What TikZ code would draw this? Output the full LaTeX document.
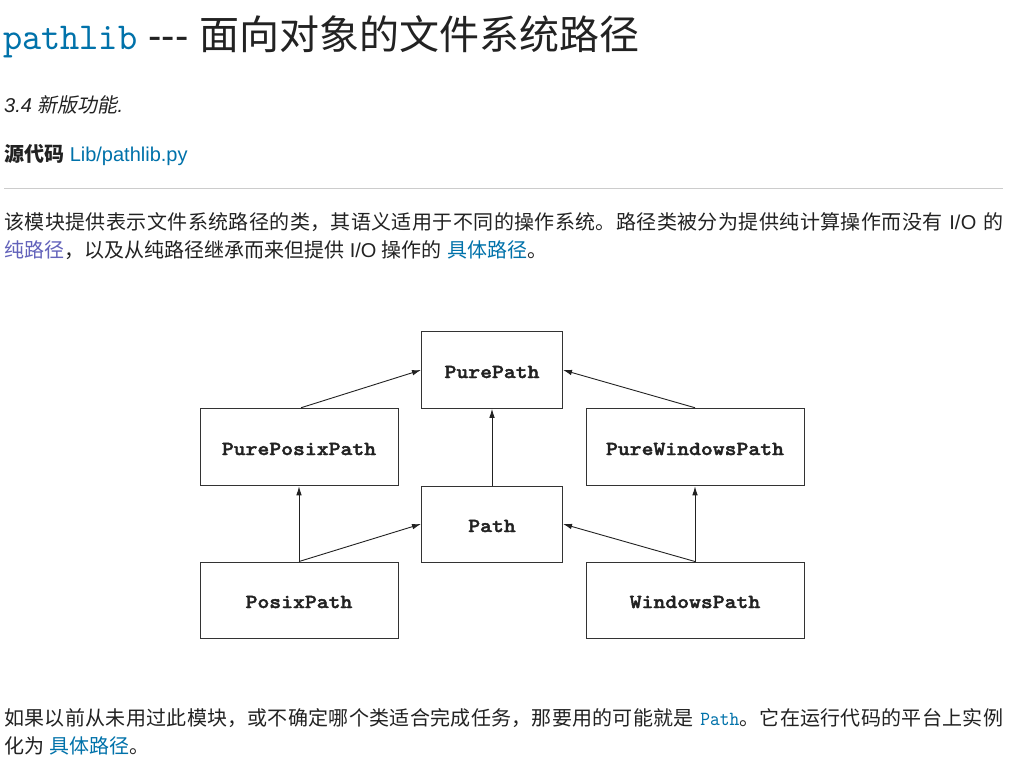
\documentclass[tikz,border=0pt]{standalone}
\usepackage{fontspec}
\setmainfont{Liberation Sans}
\newfontfamily\cjk{Noto Sans CJK SC}
\newfontfamily\cjkit{Noto Sans CJK SC}[FakeSlant=0.2]
\newfontfamily\titlemono{lmmono10-regular.otf}[FakeStretch=0.96]
\newfontfamily\codemono{lmmono10-regular.otf}[FakeStretch=0.93]
\newfontfamily\boxmono{lmmonolt10-bold.otf}[FakeStretch=1.13,FakeBold=2]
\usetikzlibrary{arrows.meta}
\definecolor{link}{HTML}{0072AA}
\definecolor{visited}{HTML}{6363BB}
\definecolor{txt}{HTML}{222222}
\definecolor{boxline}{HTML}{333333}
\definecolor{arrowc}{HTML}{222222}
\definecolor{rulec}{HTML}{CCCCCC}
\XeTeXlinebreaklocale "zh"
\XeTeXlinebreakskip=0pt plus 1pt
\begin{document}
\begin{tikzpicture}[x=1pt,y=-1pt,
  box/.style={draw=boxline, line width=1pt, inner sep=0pt, text=txt,
    text height=16pt, text depth=0pt,
    font=\boxmono\fontsize{20}{24}\selectfont},
  inh/.style={-{Latex[length=9pt,width=5.5pt]}, line width=0.9pt, draw=arrowc},
  txtnode/.style={anchor=base west, inner sep=0pt, text=txt,
    font=\fontsize{20}{28}\selectfont}]
\useasboundingbox[fill=white] (0,0) rectangle (1020,763);

% title and header texts
\node[txtnode, font=\fontsize{40}{44}\selectfont] (title) at (3,49)
  {{\titlemono\color{link}\fontsize{38}{44}\selectfont pathlib} \hbox{-}\hbox{-}\hbox{-} {\cjk 面向对象的文件系统路径}};
\node[txtnode] (ver) at (4,112) {\itshape 3.4 {\cjkit 新版功能}.};
\node[txtnode] (src) at (4,161) {{\cjk\bfseries 源代码} {\color{link}Lib/pathlib.py}};
\draw[rulec, line width=1pt] (4,188.5) -- (1003,188.5);

% paragraph 1
\node[txtnode] (p1a) at (4,229) {\parbox[b]{999pt}{\parfillskip=0pt\tolerance=9999
  {\cjk 该模块提供表示文件系统路径的类，其语义适用于不同的操作系统。路径类被分为提供纯计算操作而没有} I/O {\cjk 的}}};
\node[txtnode] (p1b) at (4,257)
  {{\cjk\color{visited}纯路径}{\cjk ，以及从纯路径继承而来但提供} I/O {\cjk 操作的} {\cjk\color{link}具体路径}{\cjk 。}};

% diagram
\node[box, minimum width=141pt, minimum height=76.5pt] (pp) at (492,370) {PurePath};
\node[box, minimum width=198pt, minimum height=77.5pt] (ppx) at (299,447) {PurePosixPath};
\node[box, minimum width=218pt, minimum height=77.5pt] (pw) at (695,447) {PureWindowsPath};
\node[box, minimum width=141pt, minimum height=76pt] (p) at (492,524) {Path};
\node[box, minimum width=198pt, minimum height=76pt] (px) at (299,600) {PosixPath};
\node[box, minimum width=218pt, minimum height=76pt] (wp) at (695,600) {WindowsPath};

\draw[inh] ([xshift=2pt]ppx.north) -- (pp.west);
\draw[inh] (pw.north) -- (pp.east);
\draw[inh] (p.north) -- (pp.south);
\draw[inh] (px.north) -- (ppx.south);
\draw[inh] (px.north) -- (p.west);
\draw[inh] (wp.north) -- (p.east);
\draw[inh] (wp.north) -- (pw.south);

% paragraph 2
\node[txtnode] (p2a) at (4,725) {\parbox[b]{999pt}{\parfillskip=0pt\tolerance=9999
  {\cjk 如果以前从未用过此模块，或不确定哪个类适合完成任务，那要用的可能就是} {\codemono\color{link}Path}{\cjk 。它在运行代码的平台上实例}}};
\node[txtnode] (p2b) at (4,753) {{\cjk 化为} {\cjk\color{link}具体路径}{\cjk 。}};
\end{tikzpicture}
\end{document}
